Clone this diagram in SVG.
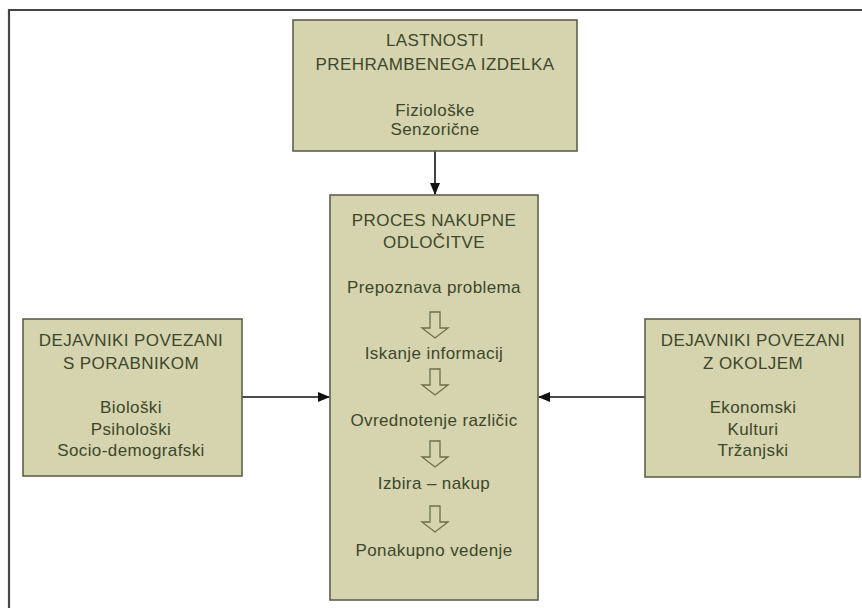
<svg xmlns="http://www.w3.org/2000/svg" width="862" height="608" viewBox="0 0 862 608">
<style>
.box{fill:#d5d4ae;stroke:#5e5f4c;stroke-width:1.6}
.t{font-family:"Liberation Sans",Arial,sans-serif;font-size:17px;fill:#3c472c;text-anchor:middle;letter-spacing:0.4px}
.con{stroke:#111;stroke-width:1.6;fill:none}
.blk{fill:#d5d4ae;stroke:#6a6f4e;stroke-width:1.3}
</style>
<defs>
<marker id="ah" markerWidth="12" markerHeight="10" refX="11" refY="5" orient="auto" markerUnits="userSpaceOnUse">
<path d="M0,0 L12,5 L0,10 Z" fill="#111"/>
</marker>
<path id="barrow" d="M-5,0 H5 V16 H13 L0,26 L-13,16 H-5 Z"/>
</defs>
<rect x="0" y="0" width="862" height="608" fill="#ffffff"/>
<g id="frame">
<path d="M9,608 V10 H862" fill="none" stroke="#464646" stroke-width="2.2"/>
</g>
<g id="connectors">
<line class="con" x1="435" y1="151" x2="435" y2="194" marker-end="url(#ah)"/>
<line class="con" x1="242" y1="397" x2="329" y2="397" marker-end="url(#ah)"/>
<line class="con" x1="645" y1="397" x2="539" y2="397" marker-end="url(#ah)"/>
</g>
<g id="node-lastnosti">
<rect class="box" x="293" y="20" width="284" height="131"/>
<text class="t" x="435" y="46">LASTNOSTI</text>
<text class="t" x="435" y="70">PREHRAMBENEGA IZDELKA</text>
<text class="t" x="435" y="116">Fiziološke</text>
<text class="t" x="435" y="135">Senzorične</text>
</g>
<g id="node-proces">
<rect class="box" x="330" y="195" width="208" height="405"/>
<text class="t" x="434" y="226">PROCES NAKUPNE</text>
<text class="t" x="434" y="248">ODLOČITVE</text>
<text class="t" x="434" y="293">Prepoznava problema</text>
<use href="#barrow" class="blk" x="435" y="312"/>
<text class="t" x="434" y="359">Iskanje informacij</text>
<use href="#barrow" class="blk" x="435" y="369"/>
<text class="t" x="434" y="426">Ovrednotenje različic</text>
<use href="#barrow" class="blk" x="435" y="441"/>
<text class="t" x="434" y="489">Izbira – nakup</text>
<use href="#barrow" class="blk" x="435" y="506"/>
<text class="t" x="434" y="556">Ponakupno vedenje</text>
</g>
<g id="node-porabnik">
<rect class="box" x="23" y="319" width="219" height="157"/>
<text class="t" x="131" y="346">DEJAVNIKI POVEZANI</text>
<text class="t" x="131" y="369">S PORABNIKOM</text>
<text class="t" x="131" y="413">Biološki</text>
<text class="t" x="131" y="435">Psihološki</text>
<text class="t" x="131" y="456">Socio-demografski</text>
</g>
<g id="node-okolje">
<rect class="box" x="645" y="319" width="215" height="158"/>
<text class="t" x="753" y="346">DEJAVNIKI POVEZANI</text>
<text class="t" x="753" y="369">Z OKOLJEM</text>
<text class="t" x="753" y="413">Ekonomski</text>
<text class="t" x="753" y="435">Kulturi</text>
<text class="t" x="753" y="456">Tržanjski</text>
</g>
</svg>
